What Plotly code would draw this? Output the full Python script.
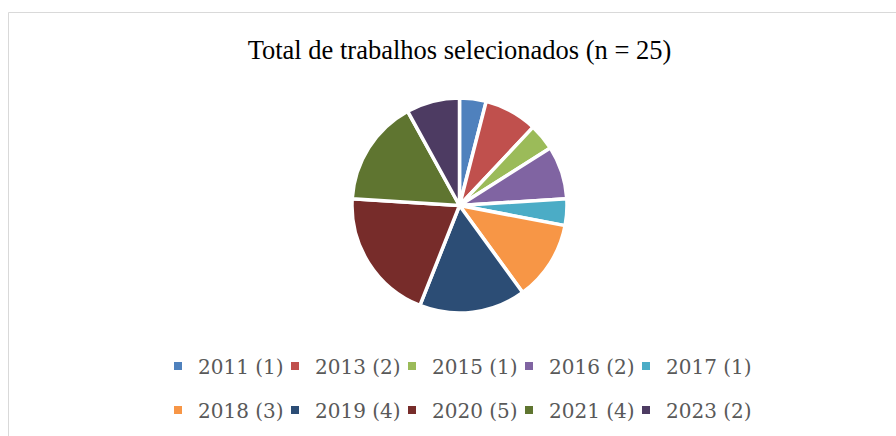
import plotly.graph_objects as go

years = ["2011", "2013", "2015", "2016", "2017", "2018", "2019", "2020", "2021", "2023"]
counts = [1, 2, 1, 2, 1, 3, 4, 5, 4, 2]
colors = ["#4F81BD", "#C0504D", "#9BBB59", "#8064A2", "#4BACC6",
          "#F79646", "#2C4D75", "#772C2A", "#5F7530", "#4D3B62"]
title_text = "Total de trabalhos selecionados (n = 25)"

labels = [f"{y} ({c})" for y, c in zip(years, counts)]

W, H = 896, 436
fig = go.Figure()

# Pie chart
cx, cy, r = 459.5, 205.5, 107.5
fig.add_trace(go.Pie(
    labels=labels, values=counts, sort=False, direction="clockwise", rotation=0,
    marker=dict(colors=colors, line=dict(color="white", width=3.5)),
    textinfo="none", showlegend=False,
    domain=dict(x=[(cx - r) / W, (cx + r) / W], y=[1 - (cy + r) / H, 1 - (cy - r) / H]),
))

# Legend entries (two rows of five)
for i, (lab, col) in enumerate(zip(labels, colors)):
    fig.add_trace(go.Scatter(
        x=[None], y=[None], mode="markers", name=lab,
        marker=dict(symbol="square", size=8, color=col),
        legend="legend" if i < 5 else "legend2",
        legendwidth=72 if i % 5 < 4 else 100,
    ))

leg_font = dict(family="DejaVu Serif", size=20, color="#595959")
common = dict(orientation="h", xanchor="left", yanchor="middle", x=158 / W,
              font=leg_font, bgcolor="rgba(0,0,0,0)", itemclick=False, itemdoubleclick=False)

fig.update_layout(
    width=W, height=H,
    margin=dict(l=0, r=0, t=0, b=0),
    paper_bgcolor="white", plot_bgcolor="white",
    title=dict(text=title_text, x=459.5 / W, xanchor="center", y=1 - 50 / H, yanchor="middle",
               font=dict(family="Liberation Serif", size=26.5, color="#000000")),
    xaxis=dict(visible=False), yaxis=dict(visible=False),
    legend=dict(y=1 - 366 / H, **common),
    legend2=dict(y=1 - 410 / H, **common),
    shapes=[dict(type="rect", xref="paper", yref="paper",
                 x0=8.5 / W, y0=1 - 12.5 / H, x1=1.05, y1=-0.05,
                 line=dict(color="#D9D9D9", width=1), fillcolor="rgba(0,0,0,0)", layer="below")],
)

fig.write_html("out.html")
